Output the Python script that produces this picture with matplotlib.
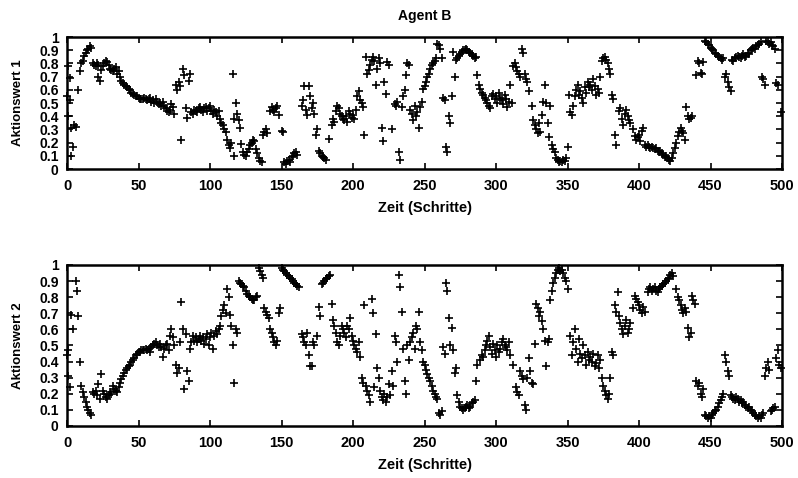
import matplotlib
matplotlib.use('Agg')
import matplotlib.pyplot as plt

# Agent B, Aktionswert 1 (oben)
steps1 = [0, 1, 1, 2, 2, 3, 3, 4, 5, 6, 8, 9, 10, 11, 12, 13, 14, 15, 16, 17, 18, 19, 20, 21, 22, 22, 23, 24, 25,
          26, 27, 28, 29, 30, 31, 32, 33, 34, 35, 36, 37, 38, 39, 40, 41, 42, 43, 44, 45, 46, 47, 48, 49, 50, 51,
          52, 53, 54, 55, 56, 57, 58, 59, 60, 61, 62, 63, 64, 65, 66, 67, 68, 69, 70, 71, 72, 73, 74, 75, 76, 77,
          78, 79, 80, 81, 82, 83, 84, 85, 86, 87, 88, 89, 90, 91, 92, 93, 94, 95, 96, 97, 98, 99, 100, 101, 102,
          103, 104, 105, 106, 107, 108, 109, 110, 111, 112, 113, 114, 115, 116, 117, 117, 118, 119, 120, 121, 122,
          123, 124, 125, 126, 127, 128, 129, 130, 131, 132, 133, 134, 135, 136, 137, 138, 139, 140, 142, 143, 144,
          145, 146, 147, 148, 150, 151, 152, 153, 154, 155, 156, 157, 158, 159, 160, 161, 164, 165, 166, 167, 168,
          169, 170, 171, 172, 173, 174, 175, 176, 177, 178, 179, 180, 181, 183, 185, 186, 187, 188, 189, 190, 191,
          192, 193, 194, 195, 196, 197, 198, 199, 200, 201, 202, 203, 204, 205, 206, 207, 208, 209, 210, 211, 212,
          213, 214, 215, 216, 217, 218, 219, 220, 221, 222, 223, 224, 225, 227, 229, 230, 231, 232, 233, 234, 235,
          236, 237, 238, 239, 240, 241, 242, 243, 244, 245, 246, 247, 248, 249, 250, 251, 252, 253, 254, 255, 256,
          257, 258, 259, 260, 261, 262, 263, 264, 265, 266, 267, 268, 269, 270, 271, 272, 273, 274, 275, 276, 277,
          278, 279, 280, 281, 282, 283, 284, 285, 286, 287, 288, 289, 290, 291, 292, 293, 294, 295, 296, 297, 298,
          299, 300, 301, 302, 303, 304, 305, 306, 307, 308, 309, 310, 311, 312, 313, 314, 315, 316, 317, 318, 319,
          320, 321, 322, 323, 325, 326, 327, 328, 329, 330, 331, 332, 333, 334, 335, 336, 337, 338, 339, 340, 341,
          342, 343, 344, 345, 346, 347, 348, 349, 350, 351, 352, 353, 354, 355, 356, 357, 358, 359, 360, 361, 362,
          363, 364, 365, 366, 367, 368, 369, 370, 371, 372, 373, 374, 375, 376, 377, 378, 379, 380, 381, 382, 383,
          384, 386, 387, 388, 389, 390, 391, 392, 393, 394, 396, 397, 398, 399, 400, 401, 402, 403, 404, 405, 406,
          407, 408, 409, 410, 411, 412, 413, 414, 415, 416, 417, 418, 419, 420, 421, 422, 423, 424, 425, 426, 427,
          428, 429, 430, 431, 432, 433, 434, 435, 436, 437, 440, 441, 442, 443, 444, 445, 446, 447, 448, 449, 450,
          451, 452, 453, 454, 455, 456, 457, 458, 459, 460, 461, 462, 463, 464, 465, 466, 467, 468, 469, 470, 471,
          472, 473, 474, 475, 476, 477, 478, 479, 480, 481, 482, 483, 484, 485, 486, 487, 488, 489, 490, 491, 492,
          493, 494, 495, 496, 497, 499]
werte1 = [0.55, 0.78, 0.40, 0.69, 0.52, 0.31, 0.10, 0.17, 0.33, 0.32, 0.60, 0.74, 0.80, 0.82, 0.86, 0.88, 0.90,
          0.91, 0.93, 0.92, 0.80, 0.79, 0.78, 0.80, 0.79, 0.70, 0.67, 0.75, 0.78, 0.80, 0.82, 0.81, 0.79, 0.76,
          0.75, 0.74, 0.76, 0.77, 0.72, 0.74, 0.70, 0.67, 0.65, 0.64, 0.63, 0.62, 0.61, 0.60, 0.58, 0.57, 0.56,
          0.55, 0.55, 0.54, 0.53, 0.53, 0.53, 0.54, 0.53, 0.52, 0.53, 0.54, 0.51, 0.52, 0.50, 0.53, 0.51, 0.49,
          0.50, 0.48, 0.51, 0.48, 0.46, 0.44, 0.43, 0.45, 0.49, 0.47, 0.42, 0.64, 0.60, 0.66, 0.63, 0.22, 0.76,
          0.71, 0.46, 0.39, 0.67, 0.72, 0.43, 0.42, 0.45, 0.44, 0.43, 0.46, 0.47, 0.45, 0.43, 0.46, 0.47, 0.44,
          0.46, 0.48, 0.44, 0.42, 0.45, 0.43, 0.40, 0.44, 0.38, 0.35, 0.33, 0.30, 0.28, 0.22, 0.18, 0.16, 0.20,
          0.72, 0.38, 0.10, 0.50, 0.42, 0.37, 0.31, 0.19, 0.13, 0.11, 0.10, 0.13, 0.15, 0.18, 0.20, 0.22, 0.21,
          0.15, 0.12, 0.08, 0.06, 0.05, 0.26, 0.28, 0.30, 0.27, 0.44, 0.47, 0.45, 0.43, 0.46, 0.48, 0.41, 0.29,
          0.28, 0.05, 0.04, 0.06, 0.07, 0.05, 0.09, 0.10, 0.12, 0.13, 0.11, 0.48, 0.52, 0.63, 0.45, 0.41, 0.63,
          0.55, 0.46, 0.50, 0.42, 0.26, 0.30, 0.14, 0.12, 0.10, 0.09, 0.08, 0.07, 0.23, 0.33, 0.38, 0.36, 0.44,
          0.48, 0.46, 0.42, 0.40, 0.38, 0.37, 0.40, 0.36, 0.44, 0.42, 0.39, 0.41, 0.38, 0.45, 0.55, 0.59, 0.52,
          0.50, 0.47, 0.26, 0.85, 0.72, 0.75, 0.79, 0.83, 0.85, 0.82, 0.64, 0.76, 0.84, 0.80, 0.31, 0.21, 0.66,
          0.57, 0.81, 0.79, 0.30, 0.49, 0.48, 0.51, 0.13, 0.07, 0.47, 0.55, 0.60, 0.71, 0.80, 0.79, 0.45, 0.42,
          0.37, 0.48, 0.40, 0.43, 0.31, 0.47, 0.51, 0.61, 0.63, 0.66, 0.70, 0.72, 0.76, 0.79, 0.80, 0.82, 0.84,
          0.95, 0.94, 0.91, 0.84, 0.54, 0.52, 0.17, 0.13, 0.40, 0.35, 0.55, 0.89, 0.70, 0.83, 0.84, 0.86, 0.87,
          0.89, 0.90, 0.90, 0.91, 0.90, 0.89, 0.88, 0.87, 0.86, 0.84, 0.85, 0.71, 0.64, 0.61, 0.58, 0.56, 0.54,
          0.52, 0.50, 0.48, 0.46, 0.55, 0.57, 0.53, 0.55, 0.50, 0.58, 0.54, 0.52, 0.49, 0.56, 0.53, 0.47, 0.51,
          0.64, 0.50, 0.78, 0.80, 0.77, 0.74, 0.72, 0.70, 0.91, 0.88, 0.72, 0.68, 0.66, 0.59, 0.48, 0.37, 0.33,
          0.30, 0.27, 0.35, 0.28, 0.41, 0.51, 0.64, 0.50, 0.35, 0.24, 0.48, 0.18, 0.15, 0.13, 0.08, 0.07, 0.05,
          0.06, 0.05, 0.07, 0.06, 0.08, 0.17, 0.56, 0.43, 0.41, 0.48, 0.55, 0.60, 0.64, 0.56, 0.59, 0.54, 0.50,
          0.62, 0.58, 0.66, 0.62, 0.64, 0.60, 0.68, 0.63, 0.56, 0.61, 0.58, 0.70, 0.82, 0.84, 0.85, 0.83, 0.80,
          0.76, 0.72, 0.56, 0.53, 0.26, 0.18, 0.44, 0.46, 0.38, 0.33, 0.42, 0.45, 0.40, 0.37, 0.35, 0.30, 0.25,
          0.22, 0.24, 0.26, 0.21, 0.29, 0.31, 0.18, 0.17, 0.18, 0.17, 0.16, 0.17, 0.16, 0.15, 0.16, 0.14, 0.13,
          0.14, 0.12, 0.11, 0.09, 0.10, 0.08, 0.07, 0.06, 0.08, 0.12, 0.16, 0.20, 0.25, 0.28, 0.31, 0.29, 0.27,
          0.22, 0.47, 0.40, 0.38, 0.39, 0.40, 0.71, 0.82, 0.80, 0.73, 0.72, 0.81, 0.97, 0.96, 0.95, 0.94, 0.92,
          0.91, 0.90, 0.88, 0.87, 0.86, 0.85, 0.84, 0.83, 0.84, 0.70, 0.72, 0.66, 0.62, 0.59, 0.83, 0.82, 0.84,
          0.85, 0.86, 0.85, 0.84, 0.86, 0.87, 0.85, 0.86, 0.88, 0.87, 0.90, 0.91, 0.92, 0.91, 0.93, 0.94, 0.95,
          0.96, 0.70, 0.68, 0.64, 0.97, 0.96, 0.95, 0.96, 0.94, 0.93, 0.91, 0.65, 0.64, 0.43]

# Agent B, Aktionswert 2 (unten)
steps2 = [0, 1, 1, 2, 3, 4, 6, 7, 8, 9, 10, 11, 12, 13, 14, 15, 16, 17, 18, 19, 20, 21, 22, 23, 24, 25, 26, 27,
          28, 29, 30, 31, 32, 33, 34, 35, 36, 37, 38, 39, 40, 41, 42, 43, 44, 45, 46, 47, 48, 49, 50, 51, 52, 53,
          54, 55, 56, 57, 58, 59, 60, 61, 62, 63, 64, 65, 66, 67, 68, 69, 70, 71, 72, 73, 74, 75, 76, 77, 78, 79,
          80, 81, 82, 83, 84, 85, 86, 87, 88, 89, 90, 91, 92, 93, 94, 95, 96, 97, 98, 99, 100, 101, 102, 103, 104,
          105, 106, 107, 108, 109, 110, 111, 112, 113, 114, 115, 116, 117, 118, 119, 120, 121, 122, 123, 124, 125,
          126, 127, 128, 129, 130, 131, 132, 133, 134, 135, 136, 137, 138, 139, 140, 141, 142, 143, 144, 145, 146,
          147, 148, 149, 150, 151, 152, 153, 154, 155, 156, 157, 158, 159, 160, 161, 162, 164, 165, 166, 167, 168,
          169, 170, 171, 172, 173, 175, 176, 177, 178, 179, 180, 181, 182, 183, 184, 185, 186, 187, 188, 189, 190,
          191, 192, 193, 194, 195, 196, 197, 198, 199, 200, 201, 202, 203, 204, 205, 206, 207, 208, 209, 210, 211,
          212, 213, 214, 215, 216, 217, 218, 219, 220, 221, 222, 223, 224, 225, 226, 227, 228, 229, 230, 231, 232,
          233, 234, 235, 236, 237, 238, 239, 240, 241, 242, 243, 244, 245, 246, 247, 248, 249, 250, 251, 252, 253,
          254, 255, 256, 257, 258, 259, 260, 261, 262, 263, 264, 265, 266, 267, 268, 269, 270, 271, 272, 273, 274,
          275, 276, 277, 278, 279, 280, 281, 282, 283, 284, 285, 286, 287, 289, 290, 291, 292, 293, 294, 295, 296,
          297, 298, 299, 300, 301, 302, 303, 304, 305, 306, 307, 308, 309, 310, 312, 314, 315, 316, 317, 318, 319,
          320, 321, 322, 323, 324, 325, 326, 327, 328, 329, 330, 331, 332, 333, 334, 335, 336, 337, 338, 339, 340,
          341, 342, 343, 344, 345, 346, 347, 348, 349, 350, 352, 353, 354, 355, 356, 357, 358, 359, 360, 361, 362,
          363, 364, 365, 366, 367, 368, 369, 370, 371, 372, 373, 374, 375, 376, 377, 378, 379, 380, 381, 382, 383,
          384, 385, 386, 387, 388, 389, 390, 391, 392, 393, 394, 396, 397, 398, 399, 400, 401, 402, 403, 404, 406,
          407, 408, 409, 410, 411, 412, 413, 414, 415, 416, 417, 418, 419, 420, 421, 422, 423, 424, 426, 427, 428,
          429, 430, 431, 432, 433, 434, 435, 436, 437, 438, 439, 440, 441, 442, 443, 444, 445, 446, 447, 448, 449,
          450, 451, 452, 453, 454, 455, 456, 457, 458, 459, 460, 461, 462, 463, 464, 465, 466, 467, 468, 469, 470,
          471, 472, 473, 474, 475, 476, 477, 478, 479, 480, 481, 482, 483, 484, 485, 486, 487, 488, 489, 490, 491,
          492, 493, 494, 495, 496, 497, 498, 499]
werte2 = [0.44, 0.47, 0.31, 0.24, 0.69, 0.60, 0.90, 0.84, 0.68, 0.40, 0.25, 0.21, 0.18, 0.15, 0.12, 0.10, 0.08,
          0.07, 0.21, 0.20, 0.22, 0.19, 0.26, 0.17, 0.32, 0.22, 0.20, 0.18, 0.17, 0.19, 0.21, 0.20, 0.25, 0.23,
          0.22, 0.21, 0.24, 0.27, 0.29, 0.31, 0.33, 0.35, 0.36, 0.37, 0.38, 0.40, 0.41, 0.42, 0.44, 0.45, 0.46,
          0.46, 0.47, 0.47, 0.47, 0.48, 0.47, 0.48, 0.46, 0.49, 0.50, 0.51, 0.52, 0.50, 0.49, 0.51, 0.49, 0.43,
          0.48, 0.50, 0.51, 0.47, 0.56, 0.60, 0.55, 0.50, 0.38, 0.33, 0.36, 0.52, 0.77, 0.60, 0.23, 0.57, 0.34,
          0.28, 0.48, 0.52, 0.56, 0.53, 0.55, 0.52, 0.54, 0.56, 0.53, 0.55, 0.51, 0.54, 0.57, 0.50, 0.55, 0.58,
          0.48, 0.56, 0.59, 0.57, 0.60, 0.62, 0.68, 0.72, 0.75, 0.70, 0.85, 0.80, 0.69, 0.62, 0.50, 0.27, 0.60,
          0.58, 0.90, 0.89, 0.88, 0.87, 0.86, 0.84, 0.82, 0.81, 0.80, 0.79, 0.78, 0.78, 0.80, 0.81, 0.98, 0.96,
          0.94, 0.92, 0.73, 0.71, 0.69, 0.67, 0.60, 0.58, 0.55, 0.52, 0.50, 0.53, 0.70, 0.73, 0.98, 0.97, 0.96,
          0.95, 0.94, 0.93, 0.92, 0.91, 0.90, 0.89, 0.88, 0.87, 0.86, 0.57, 0.55, 0.52, 0.50, 0.58, 0.44, 0.37,
          0.37, 0.52, 0.50, 0.56, 0.74, 0.68, 0.88, 0.89, 0.90, 0.91, 0.92, 0.93, 0.94, 0.76, 0.66, 0.62, 0.58,
          0.52, 0.50, 0.56, 0.62, 0.60, 0.58, 0.55, 0.62, 0.60, 0.67, 0.56, 0.53, 0.50, 0.48, 0.46, 0.52, 0.43,
          0.30, 0.27, 0.75, 0.25, 0.22, 0.19, 0.15, 0.79, 0.70, 0.24, 0.57, 0.36, 0.30, 0.22, 0.18, 0.16, 0.20,
          0.15, 0.18, 0.26, 0.19, 0.34, 0.25, 0.56, 0.52, 0.40, 0.94, 0.86, 0.71, 0.48, 0.28, 0.20, 0.50, 0.41,
          0.52, 0.55, 0.58, 0.48, 0.62, 0.60, 0.71, 0.52, 0.47, 0.40, 0.38, 0.35, 0.32, 0.30, 0.28, 0.25, 0.22,
          0.20, 0.18, 0.17, 0.08, 0.07, 0.09, 0.49, 0.45, 0.89, 0.84, 0.67, 0.50, 0.61, 0.47, 0.33, 0.36, 0.19,
          0.15, 0.12, 0.11, 0.10, 0.11, 0.12, 0.13, 0.11, 0.12, 0.14, 0.15, 0.16, 0.28, 0.38, 0.41, 0.44, 0.43,
          0.47, 0.50, 0.53, 0.56, 0.49, 0.45, 0.51, 0.47, 0.43, 0.50, 0.46, 0.48, 0.52, 0.54, 0.50, 0.49, 0.47,
          0.52, 0.44, 0.38, 0.24, 0.21, 0.19, 0.34, 0.31, 0.29, 0.13, 0.10, 0.30, 0.42, 0.34, 0.27, 0.26, 0.51,
          0.76, 0.73, 0.68, 0.71, 0.65, 0.60, 0.53, 0.37, 0.52, 0.54, 0.78, 0.84, 0.89, 0.92, 0.95, 0.97, 0.98,
          0.96, 0.97, 0.95, 0.92, 0.90, 0.85, 0.56, 0.44, 0.52, 0.60, 0.48, 0.40, 0.54, 0.45, 0.42, 0.50, 0.44,
          0.38, 0.46, 0.41, 0.43, 0.40, 0.45, 0.37, 0.39, 0.44, 0.36, 0.41, 0.30, 0.25, 0.22, 0.19, 0.17, 0.20,
          0.30, 0.46, 0.44, 0.75, 0.71, 0.83, 0.68, 0.64, 0.60, 0.57, 0.62, 0.66, 0.58, 0.60, 0.64, 0.73, 0.81,
          0.79, 0.77, 0.75, 0.72, 0.70, 0.74, 0.71, 0.83, 0.85, 0.86, 0.84, 0.85, 0.86, 0.84, 0.83, 0.85, 0.86,
          0.87, 0.88, 0.89, 0.90, 0.91, 0.92, 0.94, 0.95, 0.93, 0.85, 0.80, 0.78, 0.75, 0.72, 0.70, 0.73, 0.71,
          0.61, 0.55, 0.58, 0.81, 0.78, 0.76, 0.28, 0.25, 0.27, 0.20, 0.18, 0.23, 0.07, 0.06, 0.05, 0.06, 0.05,
          0.07, 0.08, 0.09, 0.10, 0.12, 0.14, 0.16, 0.18, 0.20, 0.44, 0.40, 0.34, 0.31, 0.19, 0.18, 0.17, 0.16,
          0.18, 0.17, 0.15, 0.16, 0.14, 0.15, 0.13, 0.12, 0.11, 0.12, 0.10, 0.09, 0.08, 0.07, 0.06, 0.05, 0.06,
          0.05, 0.07, 0.08, 0.31, 0.36, 0.40, 0.35, 0.09, 0.10, 0.11, 0.12, 0.42, 0.47, 0.38, 0.36]

xticks = [0, 50, 100, 150, 200, 250, 300, 350, 400, 450, 500]
yticks = [0, 0.1, 0.2, 0.3, 0.4, 0.5, 0.6, 0.7, 0.8, 0.9, 1]
ylabels = ['0', '0.1', '0.2', '0.3', '0.4', '0.5', '0.6', '0.7', '0.8', '0.9', '1']

plt.rcParams['font.family'] = ['Liberation Sans', 'DejaVu Sans']
plt.rcParams['font.weight'] = 'bold'

fig = plt.figure(figsize=(7.98, 4.78), dpi=100)
ax1 = fig.add_axes([0.084, 0.6464, 0.896, 0.276])
ax2 = fig.add_axes([0.084, 0.1088, 0.896, 0.337])


def style(ax, name):
    ax.set_xlim(0, 500)
    ax.set_ylim(0, 1)
    ax.set_xticks(xticks)
    ax.set_yticks(yticks)
    ax.set_yticklabels(ylabels)
    ax.tick_params(direction='in', top=True, right=True, length=4, width=1.2)
    ax.tick_params(axis='x', pad=7, labelsize=10.5)
    ax.tick_params(axis='y', pad=6, labelsize=10)
    for s in ax.spines.values():
        s.set_linewidth(1.8)
    ax.set_xlabel('Zeit (Schritte)', fontweight='bold', fontsize=10.5, labelpad=6)
    ax.set_ylabel(name, fontweight='bold', fontsize=9.5, labelpad=11)


ax1.plot(steps1, werte1, '+', color='black', markersize=6, markeredgewidth=1.2, clip_on=False)
style(ax1, 'Aktionswert 1')
ax1.set_title('Agent B', fontweight='bold', fontsize=10, pad=12)

ax2.plot(steps2, werte2, '+', color='black', markersize=6, markeredgewidth=1.2, clip_on=False)
style(ax2, 'Aktionswert 2')

fig.savefig('out.png', dpi=100)
